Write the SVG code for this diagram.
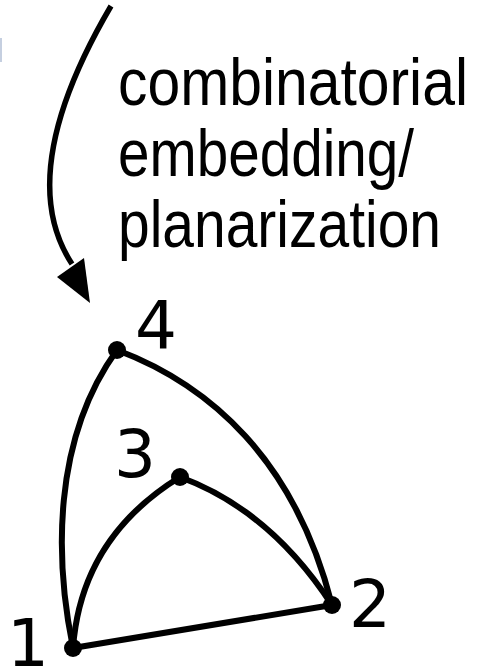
<svg xmlns="http://www.w3.org/2000/svg" width="477" height="672" viewBox="0 0 477 672">
  <style>
    .edge { fill: none; stroke: #000; stroke-width: 6; stroke-linecap: round; }
    .arrow { fill: none; stroke: #000; stroke-width: 5.5; }
    .node { fill: #000; }
    .lbl { font-family: "DejaVu Sans", "Liberation Sans", sans-serif; font-size: 66px; fill: #000; text-anchor: middle; }
    .txt { font-family: "Liberation Sans", Arial, sans-serif; font-size: 59px; fill: #000; }
  </style>
  <rect width="477" height="672" fill="#fff"/>
  <rect x="0" y="38" width="2" height="24" fill="#c5cfe0"/>
  <g id="arrow">
    <path class="arrow" d="M111,6 C 50,110 30,200 72,264"/>
    <polygon points="90,303 57,277 84,258" fill="#000"/>
  </g>
  <g id="caption">
    <text class="txt" transform="translate(118,105) scale(1,1.12)" textLength="350" lengthAdjust="spacingAndGlyphs">combinatorial</text>
    <text class="txt" transform="translate(118,176) scale(1,1.12)" textLength="296" lengthAdjust="spacingAndGlyphs">embedding/</text>
    <text class="txt" transform="translate(118,247) scale(1,1.12)" textLength="323" lengthAdjust="spacingAndGlyphs">planarization</text>
  </g>
  <g id="edges">
    <path class="edge" d="M73,648 L332,605"/>
    <path class="edge" d="M73,648 C 55,560 52,440 117,350"/>
    <path class="edge" d="M117,350 C 210,385 295,460 332,605"/>
    <path class="edge" d="M73,648 C 78,580 110,520 180,477"/>
    <path class="edge" d="M180,477 Q 270,510 332,605"/>
  </g>
  <g id="n1"><circle class="node" cx="73" cy="648" r="9"/><text class="lbl" x="28" y="666">1</text></g>
  <g id="n2"><circle class="node" cx="332" cy="605" r="9"/><text class="lbl" x="370" y="627">2</text></g>
  <g id="n3"><circle class="node" cx="180" cy="477" r="9"/><text class="lbl" x="135" y="477">3</text></g>
  <g id="n4"><circle class="node" cx="117" cy="350" r="9"/><text class="lbl" x="156" y="348">4</text></g>
</svg>
